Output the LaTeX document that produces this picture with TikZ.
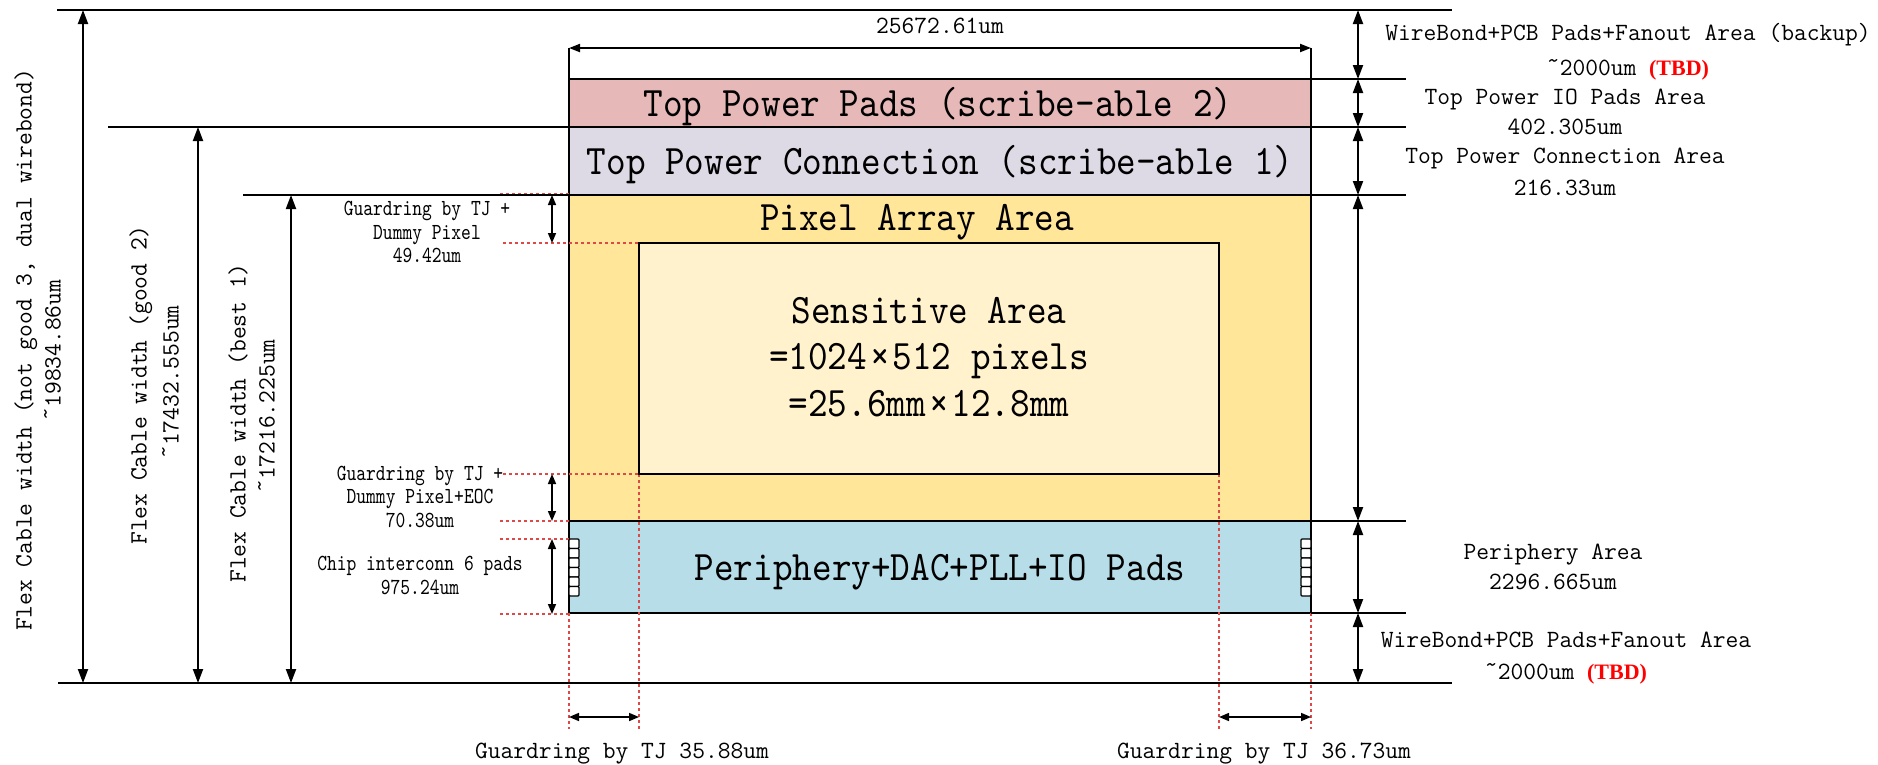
\documentclass[tikz,border=0pt]{standalone}
\usepackage{fontspec}
\usepackage{xcolor}
\usepackage{tikz}
\usetikzlibrary{arrows.meta}

\newfontfamily\bigfont{lmmono10-regular.otf}[FakeStretch=0.89]
\newfontfamily\smallfont{lmmono10-regular.otf}[FakeStretch=0.81]
\newfontfamily\tbdfont{Liberation Serif}
\newcommand\tbd{{\fontsize{22}{26}\selectfont\tbdfont\bfseries\color{red}(TBD)}}
\newcommand\tld{\raisebox{0.3em}{\textasciitilde}}

\definecolor{padpink}{HTML}{E6B8B7}
\definecolor{connlilac}{HTML}{DDD9E5}
\definecolor{pixyellow}{HTML}{FFE699}
\definecolor{senscream}{HTML}{FFF2CC}
\definecolor{periblue}{HTML}{B7DDE8}
\definecolor{guidered}{HTML}{E04848}

\tikzset{
  rule/.style={line width=2pt},
  dim/.style={line width=2pt,{Triangle[length=14pt,width=10pt]}-{Triangle[length=14pt,width=10pt]}},
  smalldim/.style={line width=1.6pt,{Triangle[length=10pt,width=8pt]}-{Triangle[length=10pt,width=8pt]}},
  guide/.style={guidered,line width=1.5pt,dash pattern=on 3pt off 3pt},
  bigtext/.style={font=\fontsize{42}{48}\bigfont,anchor=base,inner sep=0pt},
  labtext/.style={font=\fontsize{24.8}{30}\selectfont\ttfamily,anchor=base,inner sep=0pt},
  smalltext/.style={font=\fontsize{23}{24}\smallfont,anchor=base,inner sep=0pt},
}

\begin{document}
\begin{tikzpicture}[x=1pt,y=-1pt]
\useasboundingbox (0,0) rectangle (1878,764);

% chip stack
\draw[rule,fill=padpink] (569,79) rectangle (1311,127);
\draw[rule,fill=connlilac] (569,127) rectangle (1311,195);
\draw[rule,fill=pixyellow] (569,195) rectangle (1311,521);
\draw[rule,fill=periblue] (569,521) rectangle (1311,613);

% red guides
\draw[guide] (500,194) -- (569,194);
\draw[guide] (503,243) -- (639,243);
\draw[guide] (503,474) -- (639,474);
\draw[guide] (500,521) -- (569,521);
\draw[guide] (500,539) -- (569,539);
\draw[guide] (500,614) -- (569,614);
\draw[guide] (569,613) -- (569,729);
\draw[guide] (639,474) -- (639,729);
\draw[guide] (1219,474) -- (1219,729);
\draw[guide] (1311,613) -- (1311,729);

\draw[rule,fill=senscream] (639,243) rectangle (1219,474);

% interconnect pads
\foreach \i in {0,...,5} {
  \draw[line width=1.2pt,fill=white,rounded corners=1pt] (569,539+\i*9.5) rectangle (579,548.5+\i*9.5);
  \draw[line width=1.2pt,fill=white,rounded corners=1pt] (1301,539+\i*9.5) rectangle (1311,548.5+\i*9.5);
}

% reference lines
\draw[rule] (57,10) -- (1452,10);
\draw[rule] (108,127) -- (1406,127);
\draw[rule] (243,195) -- (1406,195);
\draw[rule] (1311,79) -- (1406,79);
\draw[rule] (1311,521) -- (1406,521);
\draw[rule] (1311,613) -- (1406,613);
\draw[rule] (58,683) -- (1452,683);
\draw[rule] (569,48) -- (569,79);
\draw[rule] (1311,48) -- (1311,79);

% dimension arrows
\coordinate (wl) at (569,48);
\coordinate (wr) at (1311,48);
\draw[dim,{Triangle[length=11pt,width=8pt]}-{Triangle[length=11pt,width=8pt]}] (wl) -- (wr);

\foreach \n/\y in {r0/10, r1/79, r2/127, r3/195, r4/521, r5/613, r6/683}
  \coordinate (\n) at (1358,\y);
\foreach \a/\b in {r0/r1, r1/r2, r2/r3, r3/r4, r4/r5, r5/r6}
  \draw[dim] (\a) -- (\b);

\coordinate (f1t) at (83,10);   \coordinate (f1b) at (83,683);
\coordinate (f2t) at (198,127); \coordinate (f2b) at (198,683);
\coordinate (f3t) at (291,195); \coordinate (f3b) at (291,683);
\draw[dim] (f1t) -- (f1b);
\draw[dim] (f2t) -- (f2b);
\draw[dim] (f3t) -- (f3b);

\coordinate (g1t) at (552,195); \coordinate (g1b) at (552,243);
\coordinate (g2t) at (552,474); \coordinate (g2b) at (552,521);
\coordinate (g3t) at (552,539); \coordinate (g3b) at (552,614);
\draw[smalldim] (g1t) -- (g1b);
\draw[smalldim] (g2t) -- (g2b);
\draw[smalldim] (g3t) -- (g3b);

\coordinate (b1l) at (569,717);  \coordinate (b1r) at (639,717);
\coordinate (b2l) at (1219,717); \coordinate (b2r) at (1311,717);
\draw[smalldim] (b1l) -- (b1r);
\draw[smalldim] (b2l) -- (b2r);

% chip texts
\node[bigtext] (toppads) at (938,116) {Top Power Pads (scribe-able 2)};
\node[bigtext] (topconn) at (940,174) {Top Power Connection (scribe-able 1)};
\node[bigtext] (pixarr) at (917,230) {Pixel Array Area};
\node[bigtext] (sens1) at (929,323) {Sensitive Area};
\node[bigtext] (sens2) at (929,369) {=1024\kern3pt×\kern3pt512 pixels};
\node[bigtext] (sens3) at (929,416) {=25.6mm\kern3pt×\kern3pt12.8mm};
\node[bigtext] (peri) at (940,580) {Periphery+DAC+PLL+IO Pads};

% right labels
\node[labtext] (wtxt) at (940,33.5) {25672.61um};
\node[labtext] (wbtop) at (1628,40.5) {WireBond+PCB Pads+Fanout Area (backup)};
\node[labtext] (wbtopv) at (1628,75.5) {\tld2000um \tbd};
\node[labtext] (iopads) at (1565,104.5) {Top Power IO Pads Area};
\node[labtext] (iopadsv) at (1565,134.5) {402.305um};
\node[labtext] (conn) at (1565,163.5) {Top Power Connection Area};
\node[labtext] (connv) at (1565,195.5) {216.33um};
\node[labtext] (perilab) at (1553,559.5) {Periphery Area};
\node[labtext] (periv) at (1553,589.5) {2296.665um};
\node[labtext] (wbbot) at (1566,647.5) {WireBond+PCB Pads+Fanout Area};
\node[labtext] (wbbotv) at (1566,679.5) {\tld2000um \tbd};

% bottom labels
\node[labtext] (gl) at (622,758.5) {Guardring by TJ 35.88um};
\node[labtext] (gr) at (1264,758.5) {Guardring by TJ 36.73um};

% left labels
\node[labtext,rotate=90] (flex1) at (31.5,350) {Flex Cable width (not good 3, dual wirebond)};
\node[labtext,rotate=90] (flex1v) at (60.5,350) {\tld19834.86um};
\node[labtext,rotate=90] (flex2) at (146.5,385) {Flex Cable width (good 2)};
\node[labtext,rotate=90] (flex2v) at (178.5,382) {\tld17432.555um};
\node[labtext,rotate=90] (flex3) at (245.5,423) {Flex Cable width (best 1)};
\node[labtext,rotate=90] (flex3v) at (274.5,416) {\tld17216.225um};

\node[smalltext] (gd1) at (427,215) {Guardring by TJ +};
\node[smalltext] (gd1b) at (427,239) {Dummy Pixel};
\node[smalltext] (gd1v) at (427,262) {49.42um};
\node[smalltext] (gd2) at (420,480) {Guardring by TJ +};
\node[smalltext] (gd2b) at (420,503) {Dummy Pixel+EOC};
\node[smalltext] (gd2v) at (420,527) {70.38um};
\node[smalltext] (ic) at (420,570) {Chip interconn 6 pads};
\node[smalltext] (icv) at (420,594) {975.24um};
\end{tikzpicture}
\end{document}
